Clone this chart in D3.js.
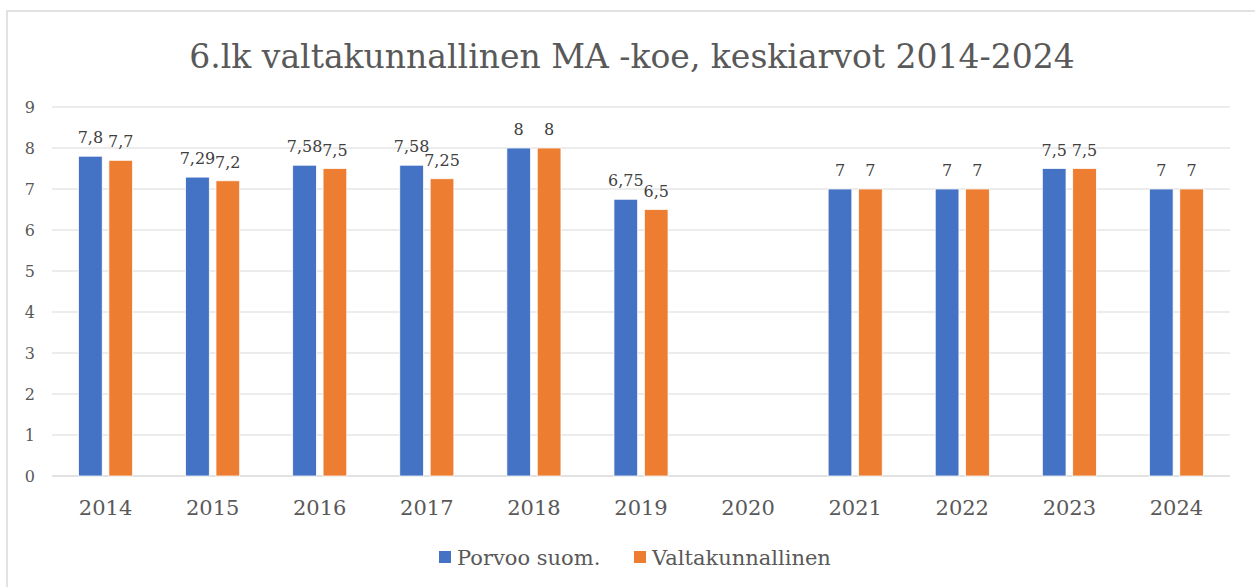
<!DOCTYPE html>
<html>
<head>
<meta charset="utf-8">
<script src="https://cdn.jsdelivr.net/npm/d3@7"></script>
<style>
  body { margin: 0; background: #fff; }
  text { font-family: 'DejaVu Serif', serif; fill: #595959; }
</style>
</head>
<body>
<div id="chart"></div>
<script>
// Data
const years = ['2014', '2015', '2016', '2017', '2018', '2019', '2020', '2021', '2022', '2023', '2024']
const porvoo = [7.8, 7.29, 7.58, 7.58, 8, 6.75, null, 7, 7, 7.5, 7]
const valtakunnallinen = [7.7, 7.2, 7.5, 7.25, 8, 6.5, null, 7, 7, 7.5, 7]
const seriesNames = ['Porvoo suom.', 'Valtakunnallinen']
const yTicks = [0, 1, 2, 3, 4, 5, 6, 7, 8, 9]
const title = '6.lk valtakunnallinen MA -koe, keskiarvot 2014-2024'

const colors = ['#4472C4', '#ED7D31']

// Canvas
const width = 1255,
  height = 587,
  plotLeft = 52,
  plotRight = 1230,
  plotTop = 107,
  plotBottom = 476

const svg = d3.select('#chart')
  .append('svg')
  .attr('width', width)
  .attr('height', height)

// chart frame
svg.append('rect')
  .attr('x', 7)
  .attr('y', 11)
  .attr('width', 1260)
  .attr('height', 600)
  .attr('fill', 'none')
  .attr('stroke', '#d9d9d9')
  .attr('stroke-width', 1.5)

const xScale = d3.scaleBand()
  .domain(years)
  .range([plotLeft, plotRight])
  .paddingInner(0.495)
  .paddingOuter(0.2475)

const x1 = d3.scaleBand()
  .domain(seriesNames)
  .range([0, xScale.bandwidth()])
  .paddingInner(0.22)

const yScale = d3.scaleLinear()
  .domain([0, 9])
  .range([plotBottom, plotTop])

// gridlines
svg.append('g')
  .selectAll('line')
  .data(yTicks)
  .enter()
  .append('line')
  .attr('x1', plotLeft)
  .attr('x2', plotRight)
  .attr('y1', d => yScale(d))
  .attr('y2', d => yScale(d))
  .attr('stroke', '#d9d9d9')
  .attr('stroke-width', d => d === 0 ? 1.5 : 1)

// y labels
svg.append('g')
  .selectAll('text')
  .data(yTicks)
  .enter()
  .append('text')
  .attr('x', 35)
  .attr('y', d => yScale(d) + 6)
  .attr('text-anchor', 'end')
  .attr('font-size', 16)
  .text(d => d)

// x labels
svg.append('g')
  .selectAll('text')
  .data(years)
  .enter()
  .append('text')
  .attr('x', d => xScale(d) + xScale.bandwidth() / 2)
  .attr('y', 515)
  .attr('text-anchor', 'middle')
  .attr('font-size', 21)
  .text(d => d)

// bars
const rows = years.map((y, i) => ({ year: y, values: [porvoo[i], valtakunnallinen[i]] }))

const groups = svg.append('g')
  .selectAll('g')
  .data(rows)
  .enter()
  .append('g')
  .attr('transform', d => `translate(${xScale(d.year)},0)`)

const cells = groups.selectAll('g')
  .data(d => d.values.map((v, j) => ({ name: seriesNames[j], v: v, j: j })).filter(d => d.v !== null))
  .enter()
  .append('g')

cells.append('rect')
  .attr('x', d => x1(d.name))
  .attr('y', d => yScale(d.v))
  .attr('width', x1.bandwidth())
  .attr('height', d => plotBottom - yScale(d.v))
  .attr('fill', d => colors[d.j])
  .attr('stroke', '#fff')
  .attr('stroke-width', 0.75)

cells.append('text')
  .attr('x', d => x1(d.name) + x1.bandwidth() / 2)
  .attr('y', d => yScale(d.v) - 13)
  .attr('text-anchor', 'middle')
  .attr('font-size', 16)
  .style('fill', '#404040')
  .text(d => String(d.v).replace('.', ','))

// title
svg.append('text')
  .attr('x', 632)
  .attr('y', 68)
  .attr('text-anchor', 'middle')
  .attr('font-size', 33)
  .text(title)

// legend
const legendX = [439, 634]
const legend = svg.append('g')
  .selectAll('g')
  .data(seriesNames)
  .enter()
  .append('g')
  .attr('transform', (d, i) => `translate(${legendX[i]},551)`)

legend.append('rect')
  .attr('width', 12)
  .attr('height', 12)
  .attr('fill', (d, i) => colors[i])

legend.append('text')
  .attr('x', 18)
  .attr('y', 14)
  .attr('font-size', 21)
  .text(d => d)
</script>
</body>
</html>
